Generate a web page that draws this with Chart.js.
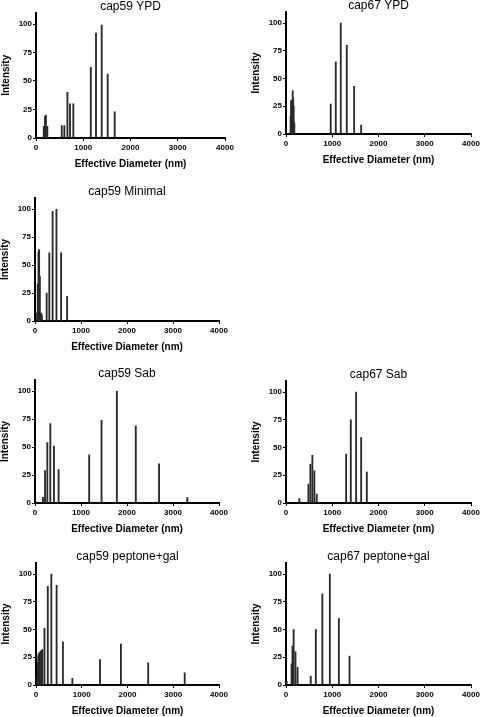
<!DOCTYPE html>
<html>
<head>
<meta charset="utf-8">
<script src="https://cdn.jsdelivr.net/npm/chart.js@4"></script>
<style>
  html, body { margin: 0; padding: 0; background: #fff; }
  #wrap { position: relative; width: 480px; height: 717px; overflow: hidden; }
  canvas { position: absolute; }
</style>
</head>
<body>
<div id="wrap"></div>
<script>
// Tick labels shared by every panel
const xTicks = [0, 1000, 2000, 3000, 4000];
const yTicks = [0, 25, 50, 75, 100];

// Effective diameter (nm) and intensity, one pair per panel
const cap59YpdSize = [165, 175, 185, 190, 200, 210, 215, 225, 240, 545, 600, 665, 720, 790, 1160, 1270, 1390, 1517, 1665];
const cap59YpdIntensity = [10, 10, 10, 19, 10, 20, 10, 10, 10, 11, 11, 40, 30, 30, 62, 92, 99, 56, 23];

const cap67YpdSize = [100, 110, 120, 135, 145, 155, 165, 180, 967, 1076, 1184, 1314, 1473, 1625];
const cap67YpdIntensity = [16, 30, 30, 28, 39, 32, 25, 10, 27, 65, 100, 80, 43, 8];

const cap59MinimalSize = [45, 60, 75, 90, 105, 120, 135, 150, 253, 311, 383, 466, 568, 698];
const cap59MinimalIntensity = [7, 33, 62, 64, 40, 7, 7, 5, 25, 61, 98, 100, 61, 22];

const cap59SabSize = [174, 217, 268, 333, 412, 513, 1178, 1446, 1779, 2191, 2697, 3311];
const cap59SabIntensity = [5, 29, 54, 71, 51, 30, 43, 74, 100, 69, 35, 5];

const cap67SabSize = [289, 484, 527, 570, 614, 664, 1300, 1401, 1516, 1625, 1747];
const cap67SabIntensity = [4, 17, 35, 43, 29, 8, 44, 75, 100, 59, 28];

const cap59PeptoneSize = [29, 40, 51, 62, 73, 84, 95, 106, 117, 128, 138, 185, 258, 335, 450, 588, 795, 1400, 1856, 2452, 3250];
const cap59PeptoneIntensity = [8, 20, 27, 28, 29, 29, 30, 30, 31, 31, 32, 51, 89, 100, 90, 39, 6, 23, 37, 20, 11];

const cap67PeptoneSize = [15, 120, 140, 165, 205, 250, 535, 645, 786, 948, 1143, 1373];
const cap67PeptoneIntensity = [3, 19, 35, 50, 30, 16, 8, 50, 82, 100, 60, 26];

const panels = [
  { title: 'cap59 YPD', sizes: cap59YpdSize, values: cap59YpdIntensity },
  { title: 'cap67 YPD', sizes: cap67YpdSize, values: cap67YpdIntensity },
  { title: 'cap59 Minimal', sizes: cap59MinimalSize, values: cap59MinimalIntensity },
  { title: 'cap59 Sab', sizes: cap59SabSize, values: cap59SabIntensity },
  { title: 'cap67 Sab', sizes: cap67SabSize, values: cap67SabIntensity },
  { title: 'cap59 peptone+gal', sizes: cap59PeptoneSize, values: cap59PeptoneIntensity },
  { title: 'cap67 peptone+gal', sizes: cap67PeptoneSize, values: cap67PeptoneIntensity }
];

// Plot area of each panel on the page: [left, right, top, bottom]
const areas = [
  [36, 225, 12.6, 138],
  [286, 471, 12, 134],
  [35, 219, 198, 321],
  [35, 219, 380, 503],
  [286, 471, 381, 503],
  [36, 219, 563, 685],
  [286, 471, 563, 685]
];

const FONT = '"Liberation Sans", Arial, sans-serif';
const Y_AXIS_W = 36;
const X_AXIS_H = 32;

// Title centred over the plot area, just above it
const panelTitle = {
  id: 'panelTitle',
  afterDraw(chart, args, opts) {
    const { ctx, chartArea } = chart;
    ctx.save();
    ctx.font = '12px ' + FONT;
    ctx.fillStyle = '#000';
    ctx.textAlign = 'center';
    ctx.textBaseline = 'alphabetic';
    ctx.fillText(opts.text, (chartArea.left + chartArea.right) / 2, chartArea.top - 3);
    ctx.restore();
  }
};

const wrap = document.getElementById('wrap');

panels.forEach((p, i) => {
  const [L, R, T, B] = areas[i];
  const x0 = Math.round(L - 40);
  const y0 = Math.round(T - 14);
  const w = Math.round(R - x0 + 12);
  const h = Math.round(B - y0 + X_AXIS_H + 2);

  const canvas = document.createElement('canvas');
  canvas.width = w;
  canvas.height = h;
  canvas.style.left = x0 + 'px';
  canvas.style.top = y0 + 'px';
  canvas.style.width = w + 'px';
  canvas.style.height = h + 'px';
  wrap.appendChild(canvas);

  const axisCommon = {
    offset: false,
    grid: { display: true, drawOnChartArea: false, offset: false, tickLength: 3, color: '#000', lineWidth: 1 },
    border: { display: true, color: '#000', width: 2 },
    ticks: {
      color: '#000',
      font: { family: FONT, size: 8, weight: 'bold' },
      autoSkip: false,
      maxRotation: 0,
      callback: v => String(v)
    },
    title: {
      display: true,
      color: '#000',
      font: { family: FONT, size: 10, weight: 'bold' },
      padding: { top: 0, bottom: 0 }
    }
  };

  new Chart(canvas, {
    type: 'bar',
    data: {
      datasets: [{
        data: p.sizes.map((s, k) => ({ x: s, y: p.values[k] })),
        backgroundColor: '#2a2a2a',
        borderWidth: 0,
        barThickness: 1.2
      }]
    },
    options: {
      responsive: false,
      animation: false,
      devicePixelRatio: 1,
      layout: {
        padding: {
          left: L - x0 - Y_AXIS_W,
          right: x0 + w - R,
          top: T - y0,
          bottom: h - (B - y0) - X_AXIS_H
        }
      },
      plugins: {
        legend: { display: false },
        tooltip: { enabled: false },
        panelTitle: { text: p.title }
      },
      scales: {
        x: {
          ...axisCommon,
          type: 'linear',
          min: 0,
          max: 4000,
          afterBuildTicks: s => { s.ticks = xTicks.map(v => ({ value: v })); },
          afterFit: s => { s.height = X_AXIS_H; },
          ticks: { ...axisCommon.ticks, padding: 2 },
          title: { ...axisCommon.title, text: 'Effective Diameter (nm)' }
        },
        y: {
          ...axisCommon,
          type: 'linear',
          min: 0,
          max: 110,
          afterBuildTicks: s => { s.ticks = yTicks.map(v => ({ value: v })); },
          afterFit: s => { s.width = Y_AXIS_W; },
          ticks: { ...axisCommon.ticks, padding: 1 },
          title: { ...axisCommon.title, text: 'Intensity' }
        }
      }
    },
    plugins: [panelTitle]
  });
});
</script>
</body>
</html>
